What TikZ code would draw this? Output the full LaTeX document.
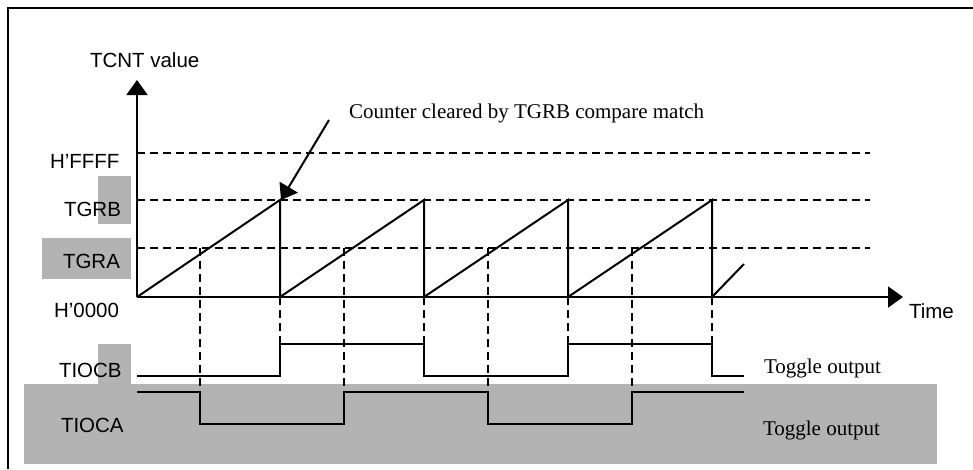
\documentclass[tikz,border=0pt]{standalone}
\usepackage{fontspec}
\setmainfont{Liberation Serif}
\setsansfont{Liberation Sans}
\usetikzlibrary{arrows.meta}
\definecolor{boxgray}{RGB}{179,179,179}

\begin{document}
\begin{tikzpicture}[x=1pt, y=-1pt, line width=2pt,
        lbl/.style={anchor=base west, inner sep=0, font=\sffamily\fontsize{20.5}{24}\selectfont},
        note/.style={anchor=base west, inner sep=0, font=\rmfamily\fontsize{21}{25}\selectfont},
        guide/.style={dash pattern=on 8pt off 5pt},
        bigtip/.style={-{Triangle[length=15pt,width=21pt]}}]
            \useasboundingbox (0,0) rectangle (973,469);

            %Shaded areas behind the labels.
            \fill[boxgray] (98,176) rectangle (131,224);
            \fill[boxgray] (42,238) rectangle (131,279);
            \fill[boxgray] (98,344) rectangle (131,384);
            \fill[boxgray] (24,384) rectangle (937,464);

            %Frame (only top and left edges show).
            \draw[line width=2.4pt] (8,469) -- (8,8) -- (973,8);

            \coordinate (O) at (137,297);
            \coordinate (ytip) at (137,80);
            \coordinate (xtip) at (903,297);

            \node (tcnt) at (89,67) [lbl] {TCNT value};
            \node (ffff) at (49,168) [lbl] {H’FFFF};
            \node (tgrb) at (63,216) [lbl] {TGRB};
            \node (tgra) at (62,268) [lbl] {TGRA};
            \node (zero) at (53,317) [lbl] {H’0000};
            \node (tiocb) at (58,377) [lbl] {TIOCB};
            \node (tioca) at (60,432) [lbl] {TIOCA};
            \node (time) at (908,318) [lbl] {Time};
            \node (clr) at (348,118) [note] {Counter cleared by TGRB compare match};
            \node (togb) at (763,373) [note] {Toggle output};
            \node (toga) at (762,435) [note] {Toggle output};

            %Axes.
            \draw[bigtip] (O) to (ytip);
            \draw[bigtip] (O) to (xtip);

            %Compare levels.
            \draw[guide] (137,153) -- (870,153);
            \draw[guide] (137,200) -- (870,200);
            \draw[guide] (137,248) -- (870,248);

            %Counter value.
            \draw (O) -- (280,200) -- (280,297) -- (424,200) -- (424,297)
                -- (568,200) -- (568,297) -- (712,200) -- (712,297) -- (744,264);

            %Annotation arrow.
            \coordinate (clrfrom) at (329,120);
            \coordinate (clrat) at (281,200);
            \draw[bigtip] (clrfrom) to (clrat);

            %Compare match guides down to the outputs.
            \draw[guide] (200,248) -- (200,392);
            \draw[guide] (344,248) -- (344,392);
            \draw[guide] (488,248) -- (488,392);
            \draw[guide] (632,248) -- (632,392);
            \draw[guide] (280,297) -- (280,344);
            \draw[guide] (424,297) -- (424,344);
            \draw[guide] (568,297) -- (568,344);
            \draw[guide] (712,297) -- (712,344);

            %Output waveforms.
            \draw (137,376) -- (280,376) -- (280,344) -- (424,344) -- (424,376)
                -- (568,376) -- (568,344) -- (712,344) -- (712,376) -- (744,376);
            \draw (137,392) -- (200,392) -- (200,424) -- (344,424) -- (344,392)
                -- (488,392) -- (488,424) -- (632,424) -- (632,392) -- (744,392);
        \end{tikzpicture}
\end{document}
